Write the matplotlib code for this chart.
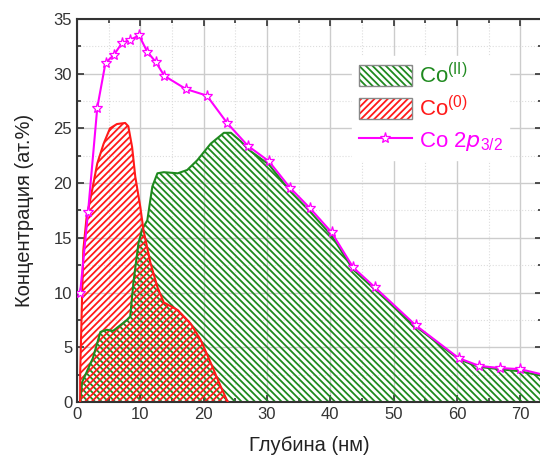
import matplotlib
matplotlib.use("Agg")
import matplotlib.pyplot as plt
from matplotlib.patches import Patch
from matplotlib.lines import Line2D
from matplotlib.ticker import MultipleLocator

plt.rcParams['font.family'] = ['Liberation Sans', 'DejaVu Sans']
plt.rcParams['hatch.linewidth'] = 1.3

# Co 2p3/2 (total), star markers
total_x = [0.5, 1.75, 3.2, 4.5, 5.8, 7.1, 8.4, 9.8, 11.1, 12.4, 13.8, 17.2, 20.5,
           23.7, 27.0, 30.3, 33.6, 36.8, 40.2, 43.6, 47.0, 53.5, 60.3, 63.5, 66.8,
           70.0, 75.0]
total_y = [10.0, 17.4, 26.9, 31.0, 31.7, 32.8, 33.1, 33.5, 32.0, 31.1, 29.8, 28.6,
           28.0, 25.5, 23.4, 22.0, 19.6, 17.7, 15.5, 12.3, 10.5, 7.0, 4.0, 3.3,
           3.1, 3.0, 2.3]

# Co(II)
co2_x = [0.5, 0.8, 2.5, 3.7, 4.7, 5.7, 7.9, 8.4, 8.9, 9.7, 10.3, 11.1, 11.9, 12.7,
         13.7, 15.9, 17.4, 19.0, 21.1, 23.2, 24.3, 25.9, 27.0, 30.3, 33.6, 36.8,
         40.2, 43.6, 47.0, 50.2, 53.5, 56.9, 60.3, 63.5, 66.8, 70.0, 75.0]
co2_y = [0.0, 1.8, 4.0, 6.4, 6.6, 6.5, 7.5, 7.8, 10.9, 14.5, 15.8, 16.6, 19.7, 20.9,
         21.0, 20.9, 21.2, 22.1, 23.6, 24.6, 24.6, 23.8, 23.1, 21.7, 19.3, 17.4,
         15.2, 12.1, 10.3, 8.6, 6.9, 5.4, 3.9, 3.2, 3.0, 2.8, 2.2]

# Co(0)
co0_x = [0.5, 0.5, 0.8, 1.0, 1.5, 2.3, 3.2, 4.2, 5.2, 6.3, 7.6, 8.1, 8.7, 9.2, 10.0,
         10.5, 11.6, 12.7, 13.7, 15.9, 17.9, 19.5, 21.1, 22.7, 23.8]
co0_y = [0.0, 2.6, 9.6, 13.9, 16.8, 19.1, 21.8, 23.6, 25.0, 25.4, 25.5, 25.2, 23.3,
         20.6, 17.8, 15.7, 12.7, 10.5, 9.1, 8.4, 7.2, 5.7, 3.6, 1.4, 0.0]

green = '#1f8a1f'
red = '#ff1a1a'
magenta = '#ff00ff'

fig = plt.figure(figsize=(5.4, 4.58), dpi=100)
ax = fig.add_axes([0.1426, 0.1223, 0.862, 0.8362])

ax.fill_between(co2_x, co2_y, 0, facecolor='none', edgecolor=green,
                hatch='\\\\\\\\\\', linewidth=0, zorder=2)
ax.plot(co2_x, co2_y, color=green, lw=1.5, zorder=3)
ax.fill_between(co0_x, co0_y, 0, facecolor='none', edgecolor=red,
                hatch='/////', linewidth=0, zorder=2)
ax.plot(co0_x, co0_y, color=red, lw=1.5, zorder=3)
ax.plot(total_x, total_y, color=magenta, lw=1.5, marker='*', ms=8,
        mfc='white', mec=magenta, mew=0.9, zorder=4)

ax.set_xlim(0, 73.5)
ax.set_ylim(0, 35)
ax.xaxis.set_major_locator(MultipleLocator(10))
ax.xaxis.set_minor_locator(MultipleLocator(5))
ax.yaxis.set_major_locator(MultipleLocator(5))
ax.yaxis.set_minor_locator(MultipleLocator(2.5))
ax.grid(which='major', color='#cccccc', lw=1.0, zorder=0)
ax.grid(which='minor', color='#dddddd', lw=0.8, ls=':', zorder=0)
ax.set_axisbelow(True)
ax.tick_params(which='both', direction='in', top=True, right=True,
               labelsize=12, colors='#333333', width=1.2)
ax.tick_params(which='major', length=5)
ax.tick_params(which='minor', length=3)
for s in ax.spines.values():
    s.set_linewidth(1.5)
    s.set_color('#333333')

ax.set_xlabel('Глубина (нм)', fontsize=14.5, color='#222222', labelpad=10)
ax.set_ylabel('Концентрация (ат.%)', fontsize=14.5, color='#222222', labelpad=14)

# legend: hatched patches with grey frame
box = dict(facecolor='none', edgecolor='#888888', lw=1.0)
handles = [(Patch(facecolor='white', edgecolor=green, hatch='\\\\\\\\\\', lw=0), Patch(**box)),
           (Patch(facecolor='white', edgecolor=red, hatch='/////', lw=0), Patch(**box)),
           Line2D([], [], color=magenta, lw=1.5, marker='*', ms=8,
                  mfc='white', mec=magenta, mew=0.9)]
labels = ['Co$^{\\mathregular{(II)}}$', 'Co$^{\\mathregular{(0)}}$',
          'Co 2$p_{\\mathregular{3/2}}$']
leg = ax.legend(handles, labels, loc='upper left', bbox_to_anchor=(352 / 540, 1 - 56 / 458),
                bbox_transform=fig.transFigure, borderaxespad=0,
                fontsize=16, frameon=True, framealpha=1, edgecolor='white',
                handlelength=2.4, handleheight=1.1, borderpad=0.3,
                labelspacing=0.35, handletextpad=0.3, fancybox=False)
for t, c in zip(leg.get_texts(), [green, red, magenta]):
    t.set_color(c)
leg.set_zorder(5)

fig.savefig('out.png', dpi=100)
